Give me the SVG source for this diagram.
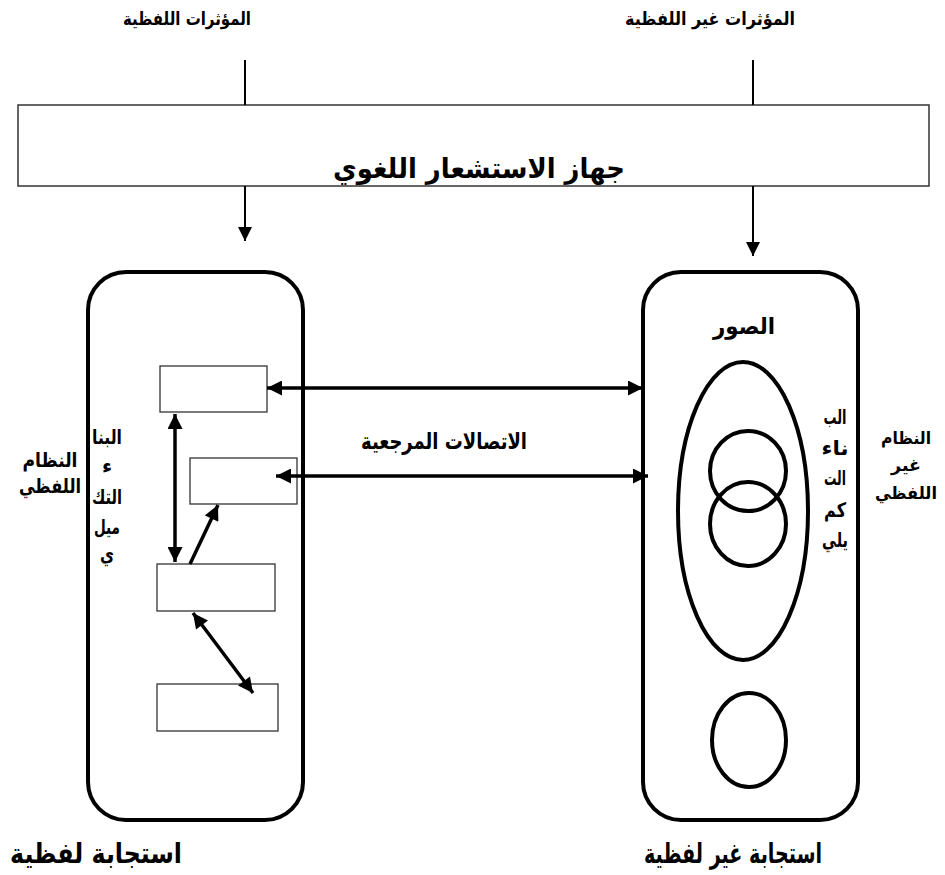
<svg xmlns="http://www.w3.org/2000/svg" width="945" height="875" viewBox="0 0 945 875">
<defs>
<style>
text{font-family:"DejaVu Sans",sans-serif;font-weight:bold;fill:#000;text-anchor:middle}
.t15{font-size:18px}
.t16{font-size:17px}
.t17{font-size:20px}
.t20{font-size:23px}
.t24{font-size:28px}
.panel{fill:#fff;stroke:#000;stroke-width:4}
.box{fill:#fff;stroke:#333;stroke-width:1.3}
.ell{fill:none;stroke:#000;stroke-width:4}
.ln{stroke:#000;stroke-width:2;fill:none}
.arr{stroke:#000;stroke-width:3.5;fill:none}
</style>
<marker id="hd" viewBox="0 0 10 10" refX="10" refY="5" markerWidth="16" markerHeight="15" markerUnits="userSpaceOnUse" orient="auto-start-reverse"><path d="M0,0 L10,5 L0,10 Z" fill="#000"/></marker>
<marker id="hs" viewBox="0 0 10 10" refX="10" refY="5" markerWidth="14" markerHeight="14" markerUnits="userSpaceOnUse" orient="auto"><path d="M0,0 L10,5 L0,10 Z" fill="#000"/></marker>
</defs>
<rect width="945" height="875" fill="#fff"/>

<g id="label-verbal-stimuli"><text class="t15" x="187" y="25" textLength="128" lengthAdjust="spacingAndGlyphs">المؤثرات اللفظية</text></g>
<g id="label-nonverbal-stimuli"><text class="t15" x="710" y="25" textLength="170" lengthAdjust="spacingAndGlyphs">المؤثرات غير اللفظية</text></g>

<g id="sensor">
<rect x="18" y="105" width="911" height="81" fill="#fff" stroke="#333" stroke-width="1.5"/>
<text class="t24" x="479" y="178" textLength="292" lengthAdjust="spacingAndGlyphs">جهاز الاستشعار اللغوي</text>
</g>

<g id="verbal-system">
<rect class="panel" x="88" y="272" width="215" height="548" rx="38"/>
<text class="t17" x="107" y="444" textLength="30" lengthAdjust="spacingAndGlyphs">البنا</text>
<text class="t17" x="107" y="473">ء</text>
<text class="t17" x="107" y="504" textLength="30" lengthAdjust="spacingAndGlyphs">التك</text>
<text class="t17" x="107" y="534" textLength="26" lengthAdjust="spacingAndGlyphs">ميل</text>
<text class="t17" x="107" y="561" textLength="14" lengthAdjust="spacingAndGlyphs">ي</text>
</g>
<g id="box1"><rect class="box" x="160" y="366" width="107" height="46"/></g>
<g id="box2"><rect class="box" x="190" y="458" width="107" height="46"/></g>
<g id="box3"><rect class="box" x="157" y="564" width="118" height="47"/></g>
<g id="box4"><rect class="box" x="157" y="684" width="121" height="47"/></g>

<g id="label-verbal-system">
<text class="t17" x="50" y="467" textLength="55" lengthAdjust="spacingAndGlyphs">النظام</text>
<text class="t17" x="50" y="493" textLength="62" lengthAdjust="spacingAndGlyphs">اللفظي</text>
</g>

<g id="nonverbal-system">
<rect class="panel" x="643" y="272" width="215" height="548" rx="38"/>
<text class="t20" x="744" y="334" textLength="62" lengthAdjust="spacingAndGlyphs">الصور</text>
<ellipse class="ell" cx="743" cy="511" rx="65" ry="149"/>
<ellipse class="ell" cx="748" cy="471" rx="38" ry="40"/>
<ellipse class="ell" cx="748" cy="524" rx="38" ry="42"/>
<ellipse class="ell" cx="749" cy="740" rx="37" ry="47"/>
<text class="t17" x="835" y="424" textLength="23" lengthAdjust="spacingAndGlyphs">الب</text>
<text class="t17" x="835" y="455" textLength="27" lengthAdjust="spacingAndGlyphs">ناء</text>
<text class="t17" x="835" y="485" textLength="22" lengthAdjust="spacingAndGlyphs">الت</text>
<text class="t17" x="835" y="517" textLength="22" lengthAdjust="spacingAndGlyphs">كم</text>
<text class="t17" x="835" y="547" textLength="26" lengthAdjust="spacingAndGlyphs">يلي</text>
</g>

<g id="label-nonverbal-system">
<text class="t16" x="906" y="444" textLength="50" lengthAdjust="spacingAndGlyphs">النظام</text>
<text class="t16" x="906" y="471" textLength="30" lengthAdjust="spacingAndGlyphs">غير</text>
<text class="t16" x="906" y="499" textLength="62" lengthAdjust="spacingAndGlyphs">اللفظي</text>
</g>

<g id="label-referential"><text class="t20" x="444" y="449" textLength="166" lengthAdjust="spacingAndGlyphs">الاتصالات المرجعية</text></g>

<g id="label-verbal-response"><text class="t24" x="96" y="863" textLength="172" lengthAdjust="spacingAndGlyphs">استجابة لفظية</text></g>
<g id="label-nonverbal-response"><text class="t24" x="733" y="863" textLength="178" lengthAdjust="spacingAndGlyphs">استجابة غير لفظية</text></g>

<g id="connectors">
<line class="ln" x1="245" y1="60" x2="245" y2="105"/>
<line class="ln" x1="753" y1="60" x2="753" y2="105"/>
<line class="ln" x1="245" y1="186" x2="245" y2="241" marker-end="url(#hs)"/>
<line class="ln" x1="753" y1="186" x2="753" y2="256" marker-end="url(#hs)"/>
<line class="arr" x1="267" y1="388" x2="643" y2="388" marker-start="url(#hd)" marker-end="url(#hd)"/>
<line class="arr" x1="276" y1="476" x2="648" y2="476" marker-start="url(#hd)" marker-end="url(#hd)"/>
<line class="arr" x1="175" y1="414" x2="175" y2="562" marker-start="url(#hd)" marker-end="url(#hd)"/>
<line class="arr" x1="190" y1="564" x2="218" y2="505" marker-end="url(#hd)"/>
<line class="arr" x1="193" y1="613" x2="253" y2="693" marker-start="url(#hd)" marker-end="url(#hd)"/>
</g>
</svg>
